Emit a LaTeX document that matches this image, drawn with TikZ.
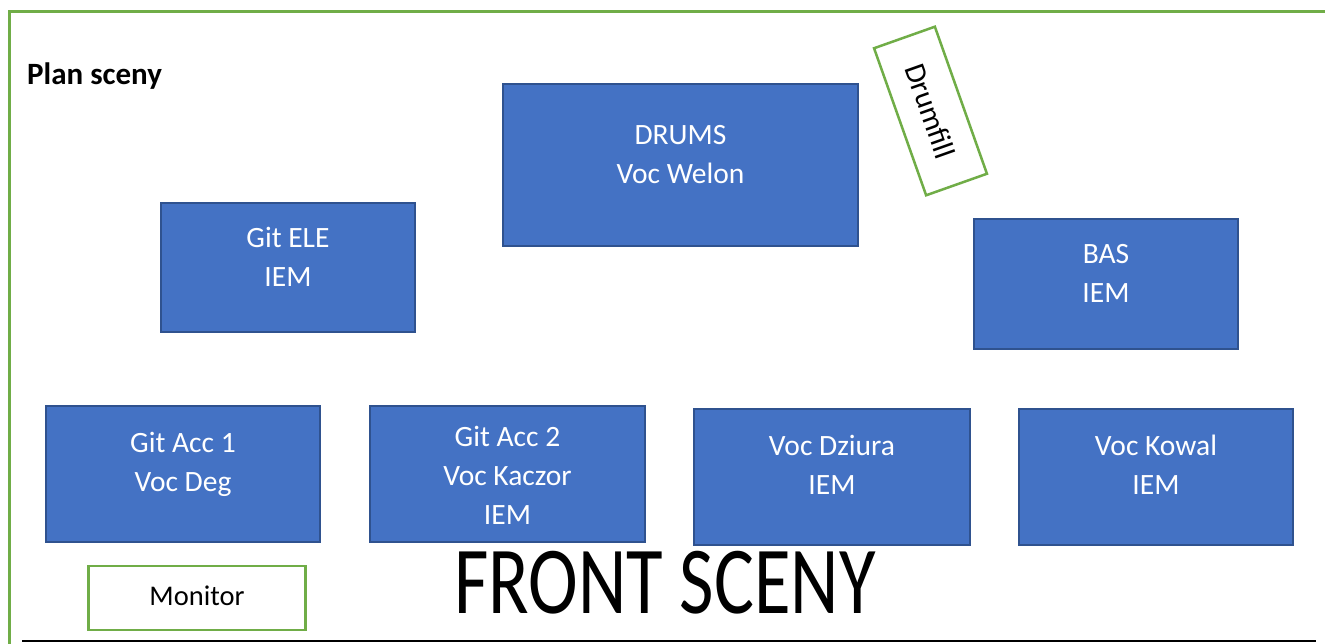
\documentclass[tikz,border=0pt]{standalone}
\usepackage{fontspec}
\setmainfont{Carlito}
\definecolor{boxfill}{HTML}{4472C4}
\definecolor{boxline}{HTML}{2F528F}
\definecolor{frgreen}{HTML}{70AD47}
\tikzset{
  box/.style={draw=boxline, fill=boxfill, line width=2pt, inner sep=0pt},
  boxtext/.style={text=white, align=center, font=\fontsize{29.5}{39}\selectfont, inner sep=0pt},
  greenbox/.style={draw=frgreen, line width=2.5pt, fill=white, inner sep=0pt},
}
\begin{document}
\begin{tikzpicture}[x=1pt,y=-1pt]
\useasboundingbox (0,0) rectangle (1325,644);
\fill[white] (0,0) rectangle (1325,644);
% frame
\draw[frgreen, line width=3pt] (9,646) -- (9,12) -- (1327,12);
\coordinate (bl) at (22,641);
\coordinate (br) at (1316,641);
\draw[black, line width=2.3pt] (bl) -- (br);
\node[anchor=base west, font=\fontsize{31}{35}\selectfont\bfseries, inner sep=0pt] (title) at (27,85) {Plan sceny};
% boxes
\node[box, minimum width=355, minimum height=162] (drums) at (680.5,165) {};
\node[boxtext] (drumsT) at (680.5,156) {\strut DRUMS\\\strut Voc Welon};
\node[box, minimum width=254, minimum height=129] (gitele) at (288,267.5) {};
\node[boxtext] (giteleT) at (288,259) {\strut Git ELE\\\strut IEM};
\node[box, minimum width=264, minimum height=130] (bas) at (1106,284) {};
\node[boxtext] (basT) at (1106,275) {\strut BAS\\\strut IEM};
\node[box, minimum width=274, minimum height=136] (acc1) at (183,474) {};
\node[boxtext] (acc1T) at (183,464) {\strut Git Acc 1\\\strut Voc Deg};
\node[box, minimum width=275, minimum height=136] (acc2) at (507.5,474) {};
\node[boxtext] (acc2T) at (507.5,478) {\strut Git Acc 2\\\strut Voc Kaczor\\\strut IEM};
\node[box, minimum width=276, minimum height=136] (dziura) at (832,477) {};
\node[boxtext] (dziuraT) at (832,467) {\strut Voc Dziura\\\strut IEM};
\node[box, minimum width=274, minimum height=136] (kowal) at (1156,477) {};
\node[boxtext] (kowalT) at (1156,467) {\strut Voc Kowal\\\strut IEM};
% green boxes
\node[greenbox, minimum width=217, minimum height=64] (monitor) at (197,598) {};
\node[anchor=base, font=\fontsize{28.5}{32}\selectfont, inner sep=0pt] (monitorT) at (197,605) {Monitor};
\node[greenbox, rotate=-70.5, minimum width=156, minimum height=64.5, font=\fontsize{30}{34}\selectfont] (drumfill) at (930.5,111) {Drumfill};
% front
\node[anchor=base, font=\fontsize{96}{110}\selectfont, inner sep=0pt] (front) at (665,613) {\scalebox{0.78}[1]{FRONT SCENY}};
\end{tikzpicture}
\end{document}
